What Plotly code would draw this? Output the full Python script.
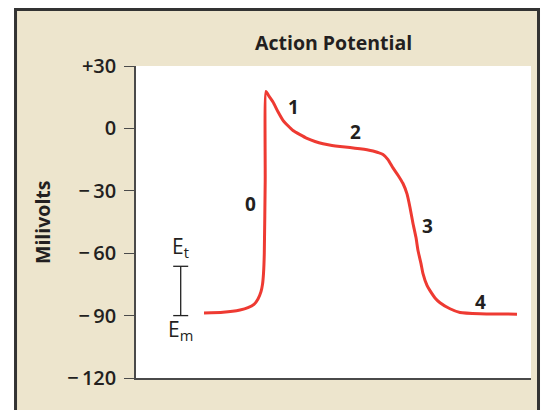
import plotly.graph_objects as go

# ---- data ----
time_ms = [68, 87, 104, 112, 118, 122, 125, 126.5, 127.5, 128.3, 129.2, 130,
           133, 137, 142, 147, 152, 157, 164, 171, 179, 187, 196,
           204, 214, 224, 231, 237, 242, 247, 252, 257, 262, 267, 271, 274, 277,
           280, 282, 285, 287, 291, 294, 299, 304, 314, 324, 344, 381]
millivolts = [-88.8, -88.4, -87.3, -86.2, -84.6, -82.0, -78.5, -75.0, -69.8, -60.0, -25.0, 17.8,
              15.5, 12.7, 8.0, 3.9, 1.3, -1.0, -3.0, -4.8, -6.3, -7.4, -8.2,
              -8.7, -9.2, -9.8, -10.3, -10.9, -11.6, -12.5, -15.0, -19.0, -22.5, -26.5, -31.5,
              -38.0, -45.7, -52.5, -58.7, -65.0, -69.8, -75.5, -78.0, -81.5, -83.8, -86.7, -88.5,
              -89.1, -89.3]

phase_labels = ["0", "1", "2", "3", "4"]
phase_t = [114, 157, 219, 291, 344]
phase_mv = [-36.5, 10.5, -1.8, -46.7, -83.4]

tick_vals = [30, 0, -30, -60, -90, -120]
tick_text = ["+30", "0", "\u2212\u200930", "\u2212\u200960", "\u2212\u200990", "\u2212\u2009120"]

e_t_mv = -66.3      # threshold potential
e_m_mv = -90.0      # membrane (resting) potential
bracket_t = 44.7
bracket_half = 7.5

FONT = "Open Sans"
DARK = "#231F20"
AXIS = "#4a4a4a"

fig = go.Figure()

# bracket E_t / E_m
bx = [bracket_t - bracket_half, bracket_t + bracket_half, None,
      bracket_t, bracket_t, None,
      bracket_t - bracket_half, bracket_t + bracket_half]
by = [e_t_mv, e_t_mv, None, e_t_mv, e_m_mv, None, e_m_mv, e_m_mv]
fig.add_trace(go.Scatter(x=bx, y=by, mode="lines",
                         line=dict(color="#222222", width=1.3),
                         hoverinfo="skip", showlegend=False))

fig.add_trace(go.Scatter(x=time_ms, y=millivolts, mode="lines",
                         line=dict(color="#EE3A32", width=3, shape="spline", smoothing=0.5),
                         showlegend=False))

for lab, t, mv in zip(phase_labels, phase_t, phase_mv):
    fig.add_annotation(x=t, y=mv, text=lab, showarrow=False,
                       font=dict(family=FONT, size=19, color=DARK, weight="bold"))

fig.add_annotation(x=bracket_t, y=e_t_mv + 9.5, text="E<sub>t</sub>", showarrow=False,
                   font=dict(family=FONT, size=21, color=DARK))
fig.add_annotation(x=bracket_t, y=e_m_mv - 7, text="E<sub>m</sub>", showarrow=False,
                   font=dict(family=FONT, size=21, color=DARK))

# panel frame and white plotting area
fig.add_shape(type="rect", xref="paper", yref="paper",
              x0=-0.305, x1=1.019, y0=-0.2, y1=1.181,
              fillcolor="#EDE5CD", line=dict(color="#333333", width=3), layer="below")
fig.add_shape(type="rect", xref="paper", yref="paper",
              x0=0, x1=1, y0=0, y1=1,
              fillcolor="white", line=dict(width=0), layer="below")

fig.add_annotation(xref="paper", yref="paper", x=0.5, y=1.074, text="Action Potential",
                   showarrow=False, xanchor="center", yanchor="middle",
                   font=dict(family=FONT, size=19.5, color=DARK, weight="bold"))
fig.add_annotation(xref="paper", yref="paper", x=-0.238, y=0.5, text="Milivolts",
                   showarrow=False, textangle=-90, xanchor="center", yanchor="middle",
                   font=dict(family=FONT, size=19.5, color=DARK, weight="bold"))

# page body has an 8px margin: shift the figure so the plot area lands where it should
fig.update_layout(
    width=542, height=402,
    margin=dict(l=128, r=19, t=58, b=32),
    paper_bgcolor="white", plot_bgcolor="white",
    showlegend=False,
    xaxis=dict(range=[0, 395], showgrid=False, zeroline=False, showticklabels=False,
               ticks="", showline=True, linecolor=AXIS, linewidth=1.6, fixedrange=True),
    yaxis=dict(range=[-120, 30], tickvals=tick_vals, ticktext=tick_text,
               showgrid=False, zeroline=False, ticks="outside", ticklen=10,
               tickwidth=1.4, tickcolor=AXIS, showline=True, linecolor=AXIS, linewidth=1.6,
               tickfont=dict(family=FONT, size=20, color=DARK, weight=600),
               ticklabelstandoff=4, fixedrange=True),
)

fig.write_html("out.html")
